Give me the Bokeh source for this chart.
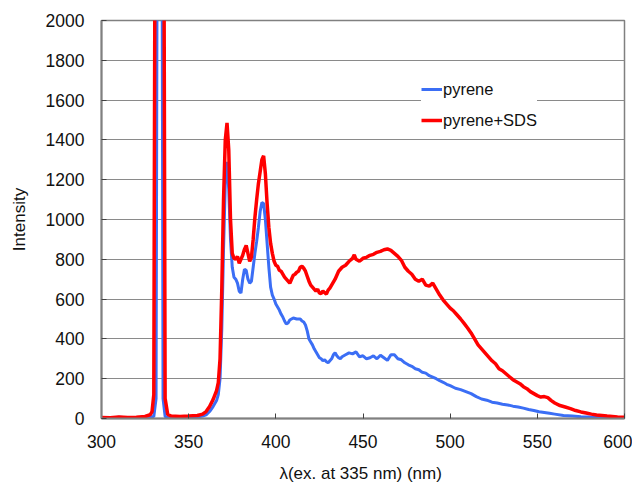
from bokeh.plotting import figure
from bokeh.models import Legend, LegendItem, Range1d, FixedTicker, ColumnDataSource
from bokeh.embed import file_html
from bokeh.resources import INLINE

# ---- data ----
x_ticks = [300, 350, 400, 450, 500, 550, 600]
y_ticks = [0, 200, 400, 600, 800, 1000, 1200, 1400, 1600, 1800, 2000]

pyrene_wl = [300, 305, 310, 315, 320, 325, 328, 330, 331.3, 332.2, 333.3, 334.5, 335.3, 336.5, 338,
             340, 345, 350, 355, 358, 360, 362, 364, 366, 367, 368, 369, 370, 371, 372, 373, 374, 375,
             376, 377, 378, 379, 380, 381, 382, 383, 384, 385, 386, 387, 388, 389, 390, 391, 392, 393,
             394, 395, 396, 397, 398, 399, 400, 401, 402, 403, 404, 405, 406, 407, 408, 410, 412, 414,
             415, 416, 417, 418, 419, 420, 421, 422, 423, 424, 425, 426, 427, 428, 429, 430, 431, 432,
             433, 434, 435, 436, 437, 438, 440, 442, 444, 446, 448, 450, 452, 454, 456, 458, 460, 462,
             464, 466, 468, 470, 472, 474, 476, 478, 480, 482, 484, 486, 488, 490, 492, 494, 496, 498,
             500, 503, 506, 509, 512, 515, 518, 521, 524, 527, 530, 533, 536, 539, 542, 545, 548, 551,
             554, 557, 560, 565, 570, 575, 580, 585, 590, 595, 600]
pyrene_int = [4, 3, 6, 4, 4, 5, 8, 10, 100, 3500, 5000, 3500, 100, 10, 5,
              4, 4, 5, 8, 12, 18, 35, 60, 90, 120, 200, 450, 850, 1180, 1290, 1150, 900, 760,
              710, 700, 680, 640, 630, 700, 750, 745, 700, 680, 690, 760, 830, 890, 960, 1040, 1085, 1080,
              1000, 880, 760, 660, 620, 600, 575, 560, 545, 525, 510, 490, 475, 480, 495, 505, 500, 500,
              490, 485, 470, 440, 400, 385, 370, 350, 335, 320, 305, 300, 290, 295, 285, 280, 290, 300,
              320, 330, 315, 305, 300, 310, 320, 330, 325, 335, 310, 315, 300, 305, 315, 300, 318, 305,
              292, 320, 320, 300, 295, 280, 270, 262, 250, 245, 232, 228, 215, 208, 200, 190, 182, 172,
              165, 152, 145, 135, 125, 110, 98, 92, 82, 78, 72, 68, 62, 58, 52, 45, 40, 34,
              30, 26, 22, 15, 12, 9, 7, 6, 5, 4, 3]

sds_wl = [300, 305, 310, 315, 320, 325, 328, 329, 330, 331, 333, 335.5, 336.5, 338, 340, 345, 350,
          355, 358, 360, 362, 364, 366, 367, 368, 369, 370, 371, 372, 373, 374, 375, 376, 377, 378,
          379, 380, 381, 382, 383, 384, 385, 386, 387, 388, 389, 390, 391, 392, 393, 394, 395, 396,
          397, 398, 399, 400, 401, 402, 403, 404, 405, 406, 407, 408, 409, 410, 411, 412, 413, 414,
          415, 416, 417, 418, 419, 420, 421, 422, 423, 424, 425, 426, 427, 428, 429, 430, 431, 432,
          434, 436, 438, 440, 442, 444, 445, 446, 448, 450, 452, 454, 456, 458, 460, 462, 464, 466,
          468, 470, 472, 474, 476, 478, 480, 482, 484, 486, 488, 490, 492, 494, 496, 498, 500, 502,
          504, 506, 508, 510, 512, 514, 516, 518, 520, 522, 524, 526, 528, 530, 532, 534, 536, 538,
          540, 542, 544, 546, 548, 550, 552, 554, 556, 558, 560, 563, 566, 569, 572, 575, 578, 581,
          584, 587, 590, 593, 596, 600]
sds_int = [5, 4, 8, 5, 6, 10, 20, 35, 120, 3500, 6000, 3500, 100, 20, 12, 10, 12,
           15, 22, 35, 60, 95, 140, 180, 300, 650, 1100, 1400, 1485, 1350, 1000, 830, 805, 800, 815,
           780, 800, 820, 850, 870, 830, 790, 810, 900, 1010, 1100, 1180, 1240, 1300, 1320, 1230, 1080, 960,
           880, 830, 790, 770, 765, 745, 740, 725, 710, 700, 690, 680, 700, 720, 725, 735, 740, 760,
           765, 755, 740, 715, 690, 670, 660, 650, 640, 650, 630, 628, 640, 632, 625, 645, 655, 670,
           700, 740, 760, 770, 790, 805, 822, 800, 790, 805, 810, 820, 825, 835, 840, 848, 852, 845,
           830, 815, 795, 760, 740, 725, 700, 690, 700, 670, 665, 680, 650, 620, 595, 575, 555, 540,
           520, 500, 478, 455, 430, 400, 370, 350, 330, 310, 290, 275, 250, 240, 225, 210, 195, 185,
           175, 160, 150, 135, 125, 115, 108, 110, 105, 90, 78, 65, 58, 50, 40, 33, 28, 22,
           18, 15, 12, 10, 8, 6]

series_names = ["pyrene", "pyrene+SDS"]
x_label = "λ(ex. at 335 nm)  (nm)"
y_label = "Intensity"

FONT = "Liberation Sans"

p = figure(frame_width=523, frame_height=398, output_backend="svg", toolbar_location=None,
           x_range=Range1d(300, 600), y_range=Range1d(0, 2000),
           min_border_left=101, min_border_right=8, min_border_top=20, min_border_bottom=64)

src_b = ColumnDataSource(dict(x=pyrene_wl, y=pyrene_int))
src_r = ColumnDataSource(dict(x=sds_wl, y=sds_int))
rb = p.line("x", "y", source=src_b, line_color="#3b6ef5", line_width=3)
rr = p.line("x", "y", source=src_r, line_color="#ff0000", line_width=3.5)

p.xaxis.ticker = FixedTicker(ticks=x_ticks)
p.yaxis.ticker = FixedTicker(ticks=y_ticks)
p.xgrid.grid_line_color = None
p.ygrid.grid_line_color = "#8a8a8a"
p.ygrid.grid_line_width = 1

for ax in (p.xaxis[0], p.yaxis[0]):
    ax.axis_line_color = "#808080"
    ax.axis_line_width = 2
    ax.major_tick_in = 5
    ax.major_tick_out = 0
    ax.minor_tick_line_color = None
    ax.major_tick_line_color = "#404040"
    ax.major_label_text_font = FONT
    ax.major_label_text_font_size = "17.5px"
    ax.major_label_text_color = "#111111"
    ax.axis_label_text_font = FONT
    ax.axis_label_text_font_size = "17px"
    ax.axis_label_text_font_style = "normal"
    ax.axis_label_text_color = "#111111"

p.xaxis.axis_label = x_label
p.yaxis.axis_label = y_label
p.xaxis.major_label_standoff = 16
p.xaxis.axis_label_standoff = 13
p.yaxis.major_label_standoff = 17
p.yaxis.axis_label_standoff = 14

p.outline_line_color = "#808080"
p.outline_line_width = 1.5

legend = Legend(items=[LegendItem(label=series_names[0], renderers=[rb]),
                       LegendItem(label=series_names[1], renderers=[rr])],
                location=(320, 288), orientation="vertical",
                label_text_font=FONT, label_text_font_size="16.5px", label_text_color="#111111",
                glyph_width=21, glyph_height=20, label_height=20, spacing=11,
                padding=6, margin=0, label_standoff=1,
                border_line_color=None, background_fill_color="white", background_fill_alpha=1)
p.add_layout(legend, "center")

open("out.html", "w").write(file_html(p, INLINE))
